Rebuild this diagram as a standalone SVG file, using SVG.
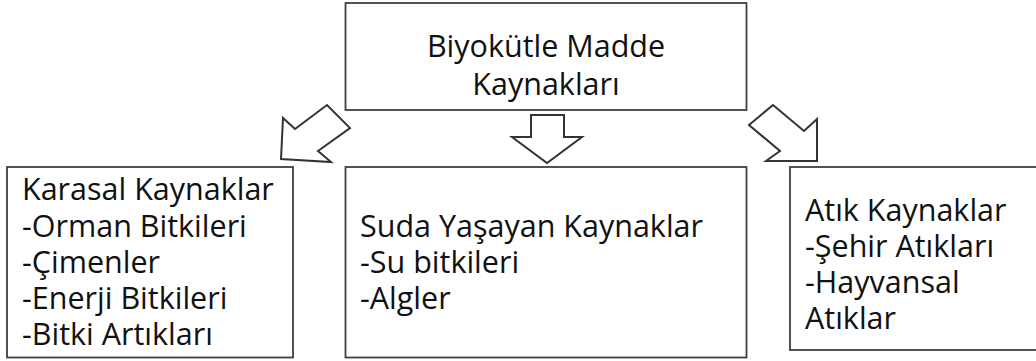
<svg xmlns="http://www.w3.org/2000/svg" width="1036" height="361" viewBox="0 0 1036 361">
  <style>
    .box { fill: #ffffff; stroke: #404040; stroke-width: 1.8; }
    .arrow { fill: #ffffff; stroke: #333333; stroke-width: 2; stroke-linejoin: miter; }
    .label { font-family: "Open Sans", "Noto Sans", sans-serif; font-size: 30.5px; fill: #111111; }
    .center { text-anchor: middle; }
  </style>
  <rect width="1036" height="361" fill="#ffffff"/>

  <!-- Root node -->
  <g id="biyokutle">
    <rect class="box" x="345.5" y="3" width="401" height="107"/>
    <text class="label center" x="546" y="57">Biyokütle Madde</text>
    <text class="label center" x="546" y="95">Kaynakları</text>
  </g>

  <!-- Block arrows from the root to the three categories -->
  <g id="connectors">
    <polygon class="arrow" points="281,159 283,118 295,129 327,105 350,128 318,151 331,162"/>
    <polygon class="arrow" points="531,115 564,115 564,137 582,137 547,163 512,137 531,137"/>
    <polygon class="arrow" points="817,161 817,119 804,131 773,105 749,125 780,151 766,161"/>
  </g>

  <!-- Terrestrial sources -->
  <g id="karasal">
    <rect class="box" x="7" y="167" width="286" height="190.5"/>
    <text class="label" x="22" y="200">Karasal Kaynaklar</text>
    <text class="label" x="22" y="237">-Orman Bitkileri</text>
    <text class="label" x="22" y="273">-Çimenler</text>
    <text class="label" x="22" y="309">-Enerji Bitkileri</text>
    <text class="label" x="22" y="345">-Bitki Artıkları</text>
  </g>

  <!-- Aquatic sources -->
  <g id="suda">
    <rect class="box" x="345.5" y="167" width="401" height="190.5"/>
    <text class="label" x="360" y="237">Suda Yaşayan Kaynaklar</text>
    <text class="label" x="360" y="273">-Su bitkileri</text>
    <text class="label" x="360" y="309">-Algler</text>
  </g>

  <!-- Waste sources -->
  <g id="atik">
    <rect class="box" x="790" y="167" width="260" height="183"/>
    <text class="label" x="805" y="221">Atık Kaynaklar</text>
    <text class="label" x="805" y="257">-Şehir Atıkları</text>
    <text class="label" x="805" y="293">-Hayvansal</text>
    <text class="label" x="805" y="329">Atıklar</text>
  </g>
</svg>
